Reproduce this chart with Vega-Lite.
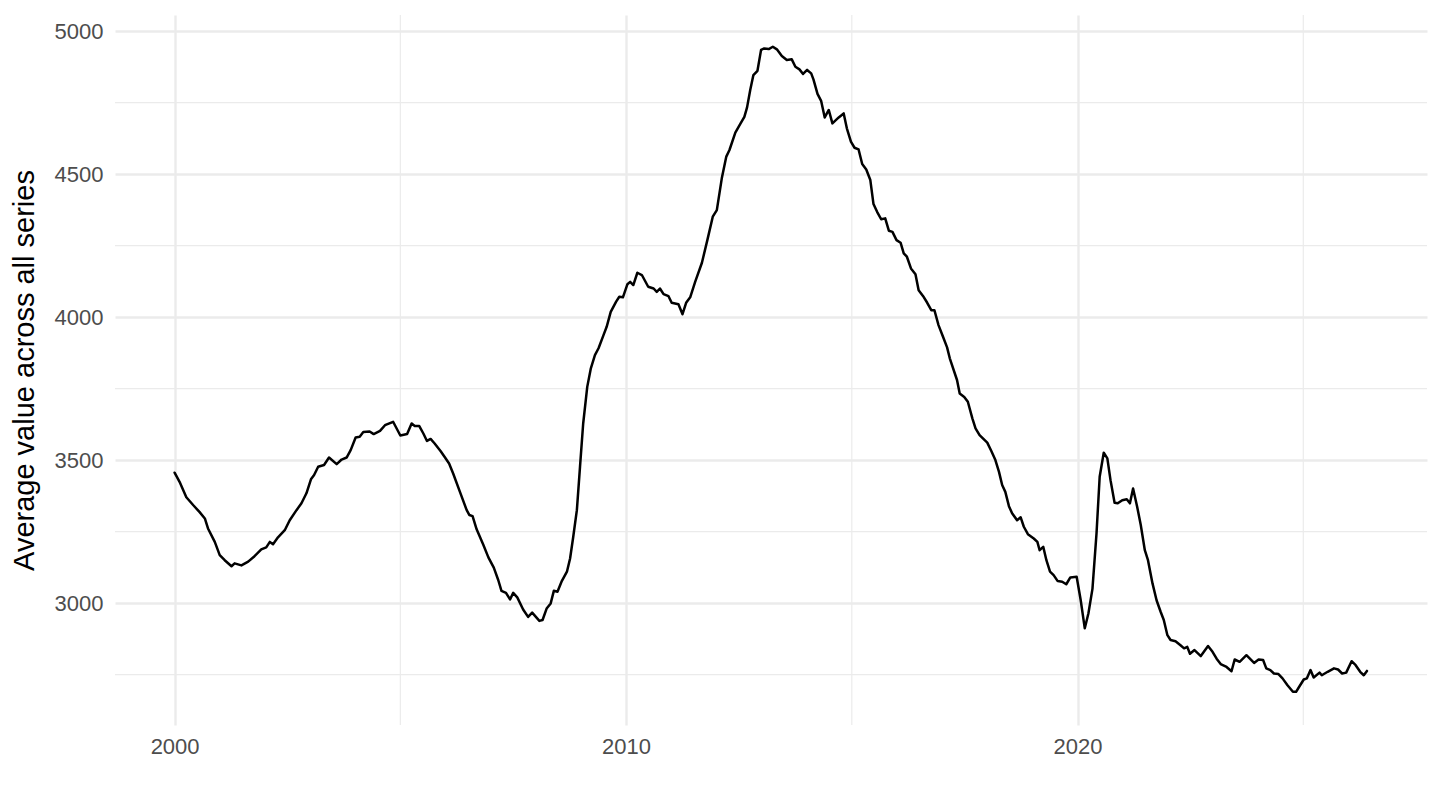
{
  "$schema": "https://vega.github.io/schema/vega-lite/v6.json",
  "width": 1312,
  "height": 710,
  "autosize": {"type": "none"},
  "padding": {"left": 115, "top": 15, "right": 13, "bottom": 85},
  "background": "white",
  "config": {"view": {"stroke": null}, "font": "Liberation Sans"},
  "datasets": {
    "series": [
      {"t": 2000.00, "v": 3456}, {"t": 2000.11, "v": 3424}, {"t": 2000.26, "v": 3370}, {"t": 2000.41, "v": 3343},
      {"t": 2000.55, "v": 3319}, {"t": 2000.67, "v": 3296}, {"t": 2000.74, "v": 3261}, {"t": 2000.89, "v": 3214},
      {"t": 2001.00, "v": 3168}, {"t": 2001.11, "v": 3150}, {"t": 2001.26, "v": 3129}, {"t": 2001.33, "v": 3139},
      {"t": 2001.48, "v": 3132}, {"t": 2001.63, "v": 3145}, {"t": 2001.77, "v": 3164}, {"t": 2001.92, "v": 3188},
      {"t": 2002.03, "v": 3195}, {"t": 2002.11, "v": 3214}, {"t": 2002.18, "v": 3206}, {"t": 2002.29, "v": 3230},
      {"t": 2002.44, "v": 3255}, {"t": 2002.55, "v": 3290}, {"t": 2002.70, "v": 3325}, {"t": 2002.81, "v": 3349},
      {"t": 2002.92, "v": 3384}, {"t": 2003.02, "v": 3433}, {"t": 2003.09, "v": 3448}, {"t": 2003.18, "v": 3477},
      {"t": 2003.31, "v": 3483}, {"t": 2003.42, "v": 3509}, {"t": 2003.59, "v": 3486}, {"t": 2003.70, "v": 3502},
      {"t": 2003.81, "v": 3509}, {"t": 2003.90, "v": 3535}, {"t": 2004.01, "v": 3579}, {"t": 2004.10, "v": 3582},
      {"t": 2004.18, "v": 3598}, {"t": 2004.32, "v": 3600}, {"t": 2004.41, "v": 3591}, {"t": 2004.55, "v": 3602},
      {"t": 2004.66, "v": 3622}, {"t": 2004.84, "v": 3634}, {"t": 2005.00, "v": 3586}, {"t": 2005.15, "v": 3591},
      {"t": 2005.25, "v": 3628}, {"t": 2005.32, "v": 3619}, {"t": 2005.42, "v": 3619}, {"t": 2005.51, "v": 3593},
      {"t": 2005.59, "v": 3567}, {"t": 2005.67, "v": 3574}, {"t": 2005.76, "v": 3558}, {"t": 2005.89, "v": 3532},
      {"t": 2005.99, "v": 3509}, {"t": 2006.08, "v": 3488}, {"t": 2006.17, "v": 3453}, {"t": 2006.32, "v": 3389},
      {"t": 2006.47, "v": 3325}, {"t": 2006.53, "v": 3308}, {"t": 2006.60, "v": 3304}, {"t": 2006.69, "v": 3258},
      {"t": 2006.84, "v": 3203}, {"t": 2006.95, "v": 3160}, {"t": 2007.07, "v": 3124}, {"t": 2007.17, "v": 3080},
      {"t": 2007.24, "v": 3043}, {"t": 2007.34, "v": 3036}, {"t": 2007.43, "v": 3013}, {"t": 2007.50, "v": 3036},
      {"t": 2007.59, "v": 3020}, {"t": 2007.72, "v": 2978}, {"t": 2007.83, "v": 2952}, {"t": 2007.92, "v": 2967},
      {"t": 2008.08, "v": 2938}, {"t": 2008.15, "v": 2941}, {"t": 2008.24, "v": 2981}, {"t": 2008.33, "v": 2999},
      {"t": 2008.40, "v": 3043}, {"t": 2008.48, "v": 3040}, {"t": 2008.57, "v": 3075}, {"t": 2008.69, "v": 3110},
      {"t": 2008.76, "v": 3156}, {"t": 2008.83, "v": 3232}, {"t": 2008.91, "v": 3325}, {"t": 2008.98, "v": 3477},
      {"t": 2009.05, "v": 3628}, {"t": 2009.14, "v": 3756}, {"t": 2009.22, "v": 3821}, {"t": 2009.31, "v": 3867},
      {"t": 2009.39, "v": 3891}, {"t": 2009.50, "v": 3937}, {"t": 2009.57, "v": 3966}, {"t": 2009.66, "v": 4018},
      {"t": 2009.78, "v": 4054}, {"t": 2009.85, "v": 4071}, {"t": 2009.93, "v": 4069}, {"t": 2010.03, "v": 4115},
      {"t": 2010.09, "v": 4123}, {"t": 2010.16, "v": 4112}, {"t": 2010.25, "v": 4155}, {"t": 2010.35, "v": 4147},
      {"t": 2010.49, "v": 4106}, {"t": 2010.61, "v": 4100}, {"t": 2010.68, "v": 4088}, {"t": 2010.75, "v": 4100},
      {"t": 2010.83, "v": 4080}, {"t": 2010.94, "v": 4073}, {"t": 2011.01, "v": 4050}, {"t": 2011.16, "v": 4045},
      {"t": 2011.25, "v": 4010}, {"t": 2011.33, "v": 4050}, {"t": 2011.42, "v": 4069}, {"t": 2011.53, "v": 4123},
      {"t": 2011.68, "v": 4190}, {"t": 2011.80, "v": 4269}, {"t": 2011.92, "v": 4351}, {"t": 2012.01, "v": 4374},
      {"t": 2012.12, "v": 4485}, {"t": 2012.22, "v": 4561}, {"t": 2012.29, "v": 4584}, {"t": 2012.42, "v": 4645},
      {"t": 2012.53, "v": 4675}, {"t": 2012.62, "v": 4700}, {"t": 2012.68, "v": 4733}, {"t": 2012.75, "v": 4794},
      {"t": 2012.82, "v": 4846}, {"t": 2012.91, "v": 4861}, {"t": 2012.99, "v": 4934}, {"t": 2013.06, "v": 4939},
      {"t": 2013.16, "v": 4937}, {"t": 2013.25, "v": 4945}, {"t": 2013.34, "v": 4936}, {"t": 2013.45, "v": 4913},
      {"t": 2013.56, "v": 4899}, {"t": 2013.67, "v": 4901}, {"t": 2013.75, "v": 4875}, {"t": 2013.84, "v": 4866},
      {"t": 2013.92, "v": 4850}, {"t": 2014.01, "v": 4864}, {"t": 2014.10, "v": 4852}, {"t": 2014.15, "v": 4831},
      {"t": 2014.24, "v": 4780}, {"t": 2014.32, "v": 4756}, {"t": 2014.40, "v": 4698}, {"t": 2014.49, "v": 4724},
      {"t": 2014.57, "v": 4677}, {"t": 2014.71, "v": 4698}, {"t": 2014.82, "v": 4712}, {"t": 2014.89, "v": 4660},
      {"t": 2014.98, "v": 4613}, {"t": 2015.06, "v": 4592}, {"t": 2015.15, "v": 4586}, {"t": 2015.23, "v": 4535},
      {"t": 2015.32, "v": 4516}, {"t": 2015.41, "v": 4479}, {"t": 2015.48, "v": 4395}, {"t": 2015.56, "v": 4368},
      {"t": 2015.65, "v": 4342}, {"t": 2015.74, "v": 4345}, {"t": 2015.82, "v": 4302}, {"t": 2015.90, "v": 4298},
      {"t": 2015.99, "v": 4269}, {"t": 2016.08, "v": 4260}, {"t": 2016.15, "v": 4223}, {"t": 2016.22, "v": 4211},
      {"t": 2016.31, "v": 4170}, {"t": 2016.41, "v": 4150}, {"t": 2016.48, "v": 4094}, {"t": 2016.58, "v": 4073},
      {"t": 2016.67, "v": 4050}, {"t": 2016.76, "v": 4024}, {"t": 2016.83, "v": 4024}, {"t": 2016.92, "v": 3972},
      {"t": 2017.02, "v": 3931}, {"t": 2017.11, "v": 3894}, {"t": 2017.17, "v": 3856}, {"t": 2017.33, "v": 3780},
      {"t": 2017.39, "v": 3733}, {"t": 2017.49, "v": 3721}, {"t": 2017.57, "v": 3704}, {"t": 2017.67, "v": 3646},
      {"t": 2017.74, "v": 3611}, {"t": 2017.83, "v": 3587}, {"t": 2018.00, "v": 3561}, {"t": 2018.09, "v": 3532},
      {"t": 2018.18, "v": 3500}, {"t": 2018.26, "v": 3459}, {"t": 2018.33, "v": 3413}, {"t": 2018.40, "v": 3389},
      {"t": 2018.48, "v": 3339}, {"t": 2018.55, "v": 3314}, {"t": 2018.66, "v": 3290}, {"t": 2018.74, "v": 3300},
      {"t": 2018.81, "v": 3267}, {"t": 2018.90, "v": 3241}, {"t": 2019.03, "v": 3226}, {"t": 2019.11, "v": 3214},
      {"t": 2019.16, "v": 3185}, {"t": 2019.24, "v": 3197}, {"t": 2019.31, "v": 3150}, {"t": 2019.39, "v": 3110},
      {"t": 2019.47, "v": 3098}, {"t": 2019.56, "v": 3077}, {"t": 2019.66, "v": 3075}, {"t": 2019.75, "v": 3066},
      {"t": 2019.84, "v": 3090}, {"t": 2019.98, "v": 3092}, {"t": 2020.07, "v": 3010}, {"t": 2020.16, "v": 2912},
      {"t": 2020.24, "v": 2964}, {"t": 2020.33, "v": 3050}, {"t": 2020.42, "v": 3244}, {"t": 2020.49, "v": 3442},
      {"t": 2020.58, "v": 3526}, {"t": 2020.66, "v": 3506}, {"t": 2020.73, "v": 3430}, {"t": 2020.82, "v": 3351},
      {"t": 2020.89, "v": 3349}, {"t": 2020.99, "v": 3360}, {"t": 2021.09, "v": 3363}, {"t": 2021.16, "v": 3349},
      {"t": 2021.23, "v": 3401}, {"t": 2021.32, "v": 3337}, {"t": 2021.40, "v": 3273}, {"t": 2021.49, "v": 3185},
      {"t": 2021.56, "v": 3150}, {"t": 2021.66, "v": 3069}, {"t": 2021.75, "v": 3010}, {"t": 2021.84, "v": 2970},
      {"t": 2021.91, "v": 2941}, {"t": 2021.99, "v": 2888}, {"t": 2022.06, "v": 2871}, {"t": 2022.17, "v": 2867},
      {"t": 2022.28, "v": 2853}, {"t": 2022.36, "v": 2842}, {"t": 2022.43, "v": 2847}, {"t": 2022.49, "v": 2823},
      {"t": 2022.59, "v": 2836}, {"t": 2022.73, "v": 2815}, {"t": 2022.89, "v": 2850}, {"t": 2022.99, "v": 2830},
      {"t": 2023.08, "v": 2806}, {"t": 2023.17, "v": 2787}, {"t": 2023.30, "v": 2777}, {"t": 2023.41, "v": 2762},
      {"t": 2023.48, "v": 2803}, {"t": 2023.59, "v": 2795}, {"t": 2023.74, "v": 2818}, {"t": 2023.91, "v": 2791},
      {"t": 2024.01, "v": 2803}, {"t": 2024.11, "v": 2801}, {"t": 2024.18, "v": 2772}, {"t": 2024.27, "v": 2766},
      {"t": 2024.35, "v": 2754}, {"t": 2024.45, "v": 2752}, {"t": 2024.54, "v": 2737}, {"t": 2024.65, "v": 2713},
      {"t": 2024.77, "v": 2690}, {"t": 2024.84, "v": 2690}, {"t": 2024.93, "v": 2713}, {"t": 2025.01, "v": 2733},
      {"t": 2025.08, "v": 2737}, {"t": 2025.16, "v": 2766}, {"t": 2025.23, "v": 2740}, {"t": 2025.36, "v": 2757},
      {"t": 2025.41, "v": 2748}, {"t": 2025.54, "v": 2760}, {"t": 2025.68, "v": 2772}, {"t": 2025.77, "v": 2768},
      {"t": 2025.86, "v": 2754}, {"t": 2025.95, "v": 2757}, {"t": 2026.07, "v": 2797}, {"t": 2026.16, "v": 2783},
      {"t": 2026.26, "v": 2760}, {"t": 2026.34, "v": 2748}, {"t": 2026.41, "v": 2763}
    ],
    "minorx": [{"t": 2005}, {"t": 2015}, {"t": 2025}],
    "minory": [{"v": 2750}, {"v": 3250}, {"v": 3750}, {"v": 4250}, {"v": 4750}]
  },
  "layer": [
    {
      "data": {"name": "minorx"},
      "mark": {"type": "rule", "color": "#EBEBEB", "strokeWidth": 1.2},
      "encoding": {
        "x": {"field": "t", "type": "quantitative", "scale": {"domain": [1998.68, 2027.74], "nice": false, "zero": false}}
      }
    },
    {
      "data": {"name": "minory"},
      "mark": {"type": "rule", "color": "#EBEBEB", "strokeWidth": 1.2},
      "encoding": {
        "y": {"field": "v", "type": "quantitative", "scale": {"domain": [2574, 5056], "nice": false, "zero": false}}
      }
    },
    {
      "data": {"name": "series"},
      "mark": {"type": "line", "color": "#000000", "strokeWidth": 2.5, "strokeJoin": "round", "strokeCap": "round"},
      "encoding": {
        "x": {
          "field": "t", "type": "quantitative",
          "scale": {"domain": [1998.68, 2027.74], "nice": false, "zero": false},
          "axis": {
            "values": [2000, 2010, 2020], "format": "d", "title": null,
            "grid": true, "gridColor": "#EBEBEB", "gridWidth": 2.4,
            "domain": false, "ticks": false, "tickSize": 0,
            "labelFontSize": 22, "labelColor": "#4D4D4D", "labelPadding": 11, "labelFont": "Liberation Sans"
          }
        },
        "y": {
          "field": "v", "type": "quantitative",
          "scale": {"domain": [2574, 5056], "nice": false, "zero": false},
          "axis": {
            "values": [3000, 3500, 4000, 4500, 5000], "format": "d",
            "title": "Average value across all series",
            "titleFontSize": 29, "titleColor": "#000000", "titleFontWeight": "normal", "titleFont": "Liberation Sans", "titlePadding": 15,
            "grid": true, "gridColor": "#EBEBEB", "gridWidth": 2.4,
            "domain": false, "ticks": false, "tickSize": 0,
            "labelFontSize": 22, "labelColor": "#4D4D4D", "labelPadding": 12, "labelFont": "Liberation Sans"
          }
        }
      }
    }
  ]
}
